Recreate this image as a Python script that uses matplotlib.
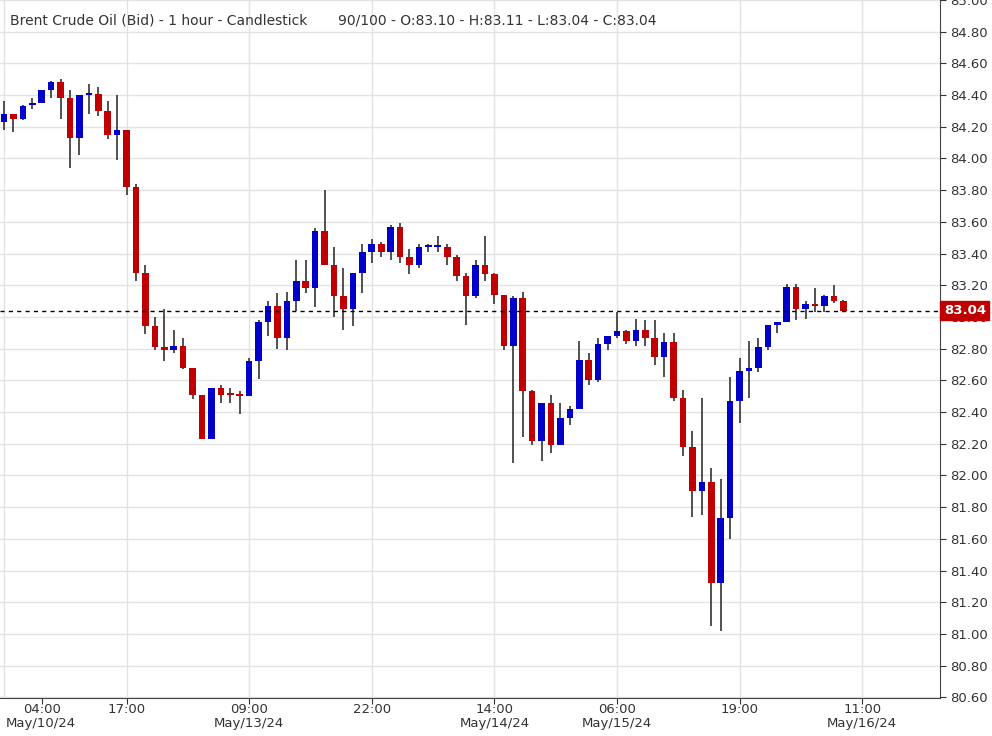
import numpy as np
import matplotlib
matplotlib.use('Agg')
import matplotlib.pyplot as plt
from matplotlib.patches import Rectangle

# ==================== Data ====================
opens = [84.23, 84.28, 84.25, 84.34, 84.35, 84.43, 84.48, 84.38, 84.13, 84.40,
         84.41, 84.30, 84.15, 84.18, 83.82, 83.28, 82.94, 82.81, 82.79, 82.82,
         82.68, 82.51, 82.23, 82.55, 82.52, 82.51, 82.50, 82.72, 82.97, 83.07,
         82.87, 83.10, 83.23, 83.18, 83.54, 83.33, 83.13, 83.05, 83.28, 83.41,
         83.46, 83.41, 83.57, 83.38, 83.33, 83.44, 83.44, 83.44, 83.38, 83.26,
         83.13, 83.33, 83.27, 83.14, 82.82, 83.12, 82.53, 82.22, 82.46, 82.19,
         82.36, 82.42, 82.73, 82.60, 82.83, 82.88, 82.91, 82.85, 82.92, 82.87,
         82.75, 82.84, 82.49, 82.18, 81.90, 81.96, 81.32, 81.73, 82.47, 82.66,
         82.68, 82.81, 82.95, 82.97, 83.19, 83.05, 83.08, 83.07, 83.13, 83.10]
closes = [84.28, 84.25, 84.33, 84.35, 84.43, 84.48, 84.38, 84.13, 84.40, 84.41,
          84.30, 84.15, 84.18, 83.82, 83.28, 82.94, 82.81, 82.79, 82.82, 82.68,
          82.51, 82.23, 82.55, 82.51, 82.51, 82.50, 82.72, 82.97, 83.07, 82.87,
          83.10, 83.23, 83.18, 83.54, 83.33, 83.13, 83.05, 83.28, 83.41, 83.46,
          83.41, 83.57, 83.38, 83.33, 83.44, 83.445, 83.445, 83.38, 83.26, 83.13,
          83.33, 83.27, 83.14, 82.82, 83.12, 82.53, 82.22, 82.46, 82.19, 82.36,
          82.42, 82.73, 82.60, 82.83, 82.88, 82.91, 82.85, 82.92, 82.87, 82.75,
          82.84, 82.49, 82.18, 81.90, 81.96, 81.32, 81.73, 82.47, 82.66, 82.68,
          82.81, 82.95, 82.97, 83.19, 83.05, 83.08, 83.07, 83.13, 83.10, 83.04]
highs = [84.36, 84.28, 84.34, 84.38, 84.43, 84.49, 84.50, 84.43, 84.40, 84.47,
         84.45, 84.36, 84.40, 84.18, 83.84, 83.33, 83.00, 83.05, 82.92, 82.87,
         82.68, 82.51, 82.55, 82.57, 82.55, 82.53, 82.74, 82.98, 83.10, 83.15,
         83.16, 83.36, 83.36, 83.56, 83.80, 83.44, 83.31, 83.28, 83.46, 83.49,
         83.47, 83.58, 83.59, 83.43, 83.46, 83.46, 83.51, 83.46, 83.39, 83.28,
         83.36, 83.51, 83.28, 83.14, 83.13, 83.16, 82.54, 82.46, 82.51, 82.46,
         82.44, 82.85, 82.77, 82.87, 82.88, 83.03, 82.92, 82.99, 82.98, 82.98,
         82.90, 82.90, 82.54, 82.28, 82.49, 82.05, 81.98, 82.62, 82.74, 82.85,
         82.87, 82.95, 82.97, 83.21, 83.21, 83.10, 83.18, 83.14, 83.20, 83.11]
lows = [84.18, 84.17, 84.24, 84.31, 84.35, 84.38, 84.25, 83.94, 84.02, 84.28,
        84.27, 84.12, 83.99, 83.77, 83.23, 82.89, 82.79, 82.72, 82.77, 82.67,
        82.48, 82.23, 82.23, 82.46, 82.46, 82.39, 82.50, 82.61, 82.88, 82.80,
        82.79, 83.04, 83.15, 83.06, 83.33, 83.00, 82.92, 82.94, 83.15, 83.34,
        83.38, 83.36, 83.34, 83.27, 83.31, 83.41, 83.41, 83.33, 83.23, 82.95,
        83.12, 83.23, 83.08, 82.79, 82.08, 82.24, 82.19, 82.09, 82.14, 82.19,
        82.32, 82.42, 82.57, 82.59, 82.79, 82.87, 82.83, 82.82, 82.82, 82.70,
        82.62, 82.47, 82.12, 81.74, 81.75, 81.05, 81.02, 81.60, 82.33, 82.49,
        82.65, 82.79, 82.90, 82.97, 82.98, 82.99, 83.03, 83.03, 83.09, 83.04]

last_price = 83.04
grid_idx = [0, 13, 26, 39, 52, 65, 78, 91]
time_labels = [(4, '04:00'), (13, '17:00'), (26, '09:00'), (39, '22:00'),
               (52, '14:00'), (65, '06:00'), (78, '19:00'), (91, '11:00')]
date_labels = [(26, 'May/13/24'), (52, 'May/14/24'),
               (65, 'May/15/24'), (91, 'May/16/24')]
first_date = 'May/10/24'
title = ('Brent Crude Oil (Bid) - 1 hour - Candlestick       '
         '90/100 - O:83.10 - H:83.11 - L:83.04 - C:83.04')

UP = '#0000c8'
DOWN = '#c00000'
WICK = '#333333'

fig = plt.figure(figsize=(9.92, 7.36), dpi=100)
ax = fig.add_axes([0, 38 / 736, 940 / 992, 698 / 736])

for x in grid_idx:
    ax.axvline(x, color='#e3e3e3', lw=1, zorder=0)
yt = np.round(np.arange(80.6, 85.01, 0.2), 2)
for y in yt:
    ax.axhline(y, color='#e3e3e3', lw=1, zorder=0)

w = 0.7
for i, (o, h, l, c) in enumerate(zip(opens, highs, lows, closes)):
    ax.vlines(i, l, h, color=WICK, lw=1.2, zorder=2)
    col = UP if c >= o else DOWN
    bot = min(o, c)
    hgt = max(abs(c - o), 0.012)
    ax.add_patch(Rectangle((i - w / 2, bot), w, hgt, facecolor=col,
                           edgecolor='none', zorder=3))

ax.axhline(last_price, color='black', ls=(0, (3, 3)), lw=1, zorder=4)

ax.set_xlim(-0.42, 99.25)
ax.set_ylim(80.596, 84.937)
ax.yaxis.tick_right()
ax.set_yticks(yt)
ax.set_yticklabels([f'{v:.2f}' for v in yt])
ax.tick_params(axis='y', labelsize=9.5, colors='#333333', length=4)
ax.set_xticks([t for t, _ in time_labels])
ax.set_xticklabels([])
ax.tick_params(axis='x', length=4, colors='#333333')
for t, s in time_labels:
    ax.text(t, -0.007, s, transform=ax.get_xaxis_transform(),
            ha='center', va='top', fontsize=9.5, color='#333333')
for t, s in date_labels:
    ax.text(t, -0.027, s, transform=ax.get_xaxis_transform(),
            ha='center', va='top', fontsize=9.5, color='#333333')
ax.text(6 / 940, -0.027, first_date, transform=ax.transAxes,
        ha='left', va='top', fontsize=9.5, color='#333333')
for s in ['left', 'top']:
    ax.spines[s].set_visible(False)
for s in ['right', 'bottom']:
    ax.spines[s].set_color('#444444')

ax.text(10 / 940, 1 - 20 / 698, title, transform=ax.transAxes,
        fontsize=10, color='#333333', va='center', ha='left', zorder=6)

ax.text(1.004, last_price, '83.04', transform=ax.get_yaxis_transform(),
        ha='left', va='center', fontsize=9.5, fontweight='bold', color='white',
        bbox=dict(boxstyle='square,pad=0.25', fc=DOWN, ec=DOWN), zorder=7,
        clip_on=False)

fig.savefig('out.png', dpi=100)
